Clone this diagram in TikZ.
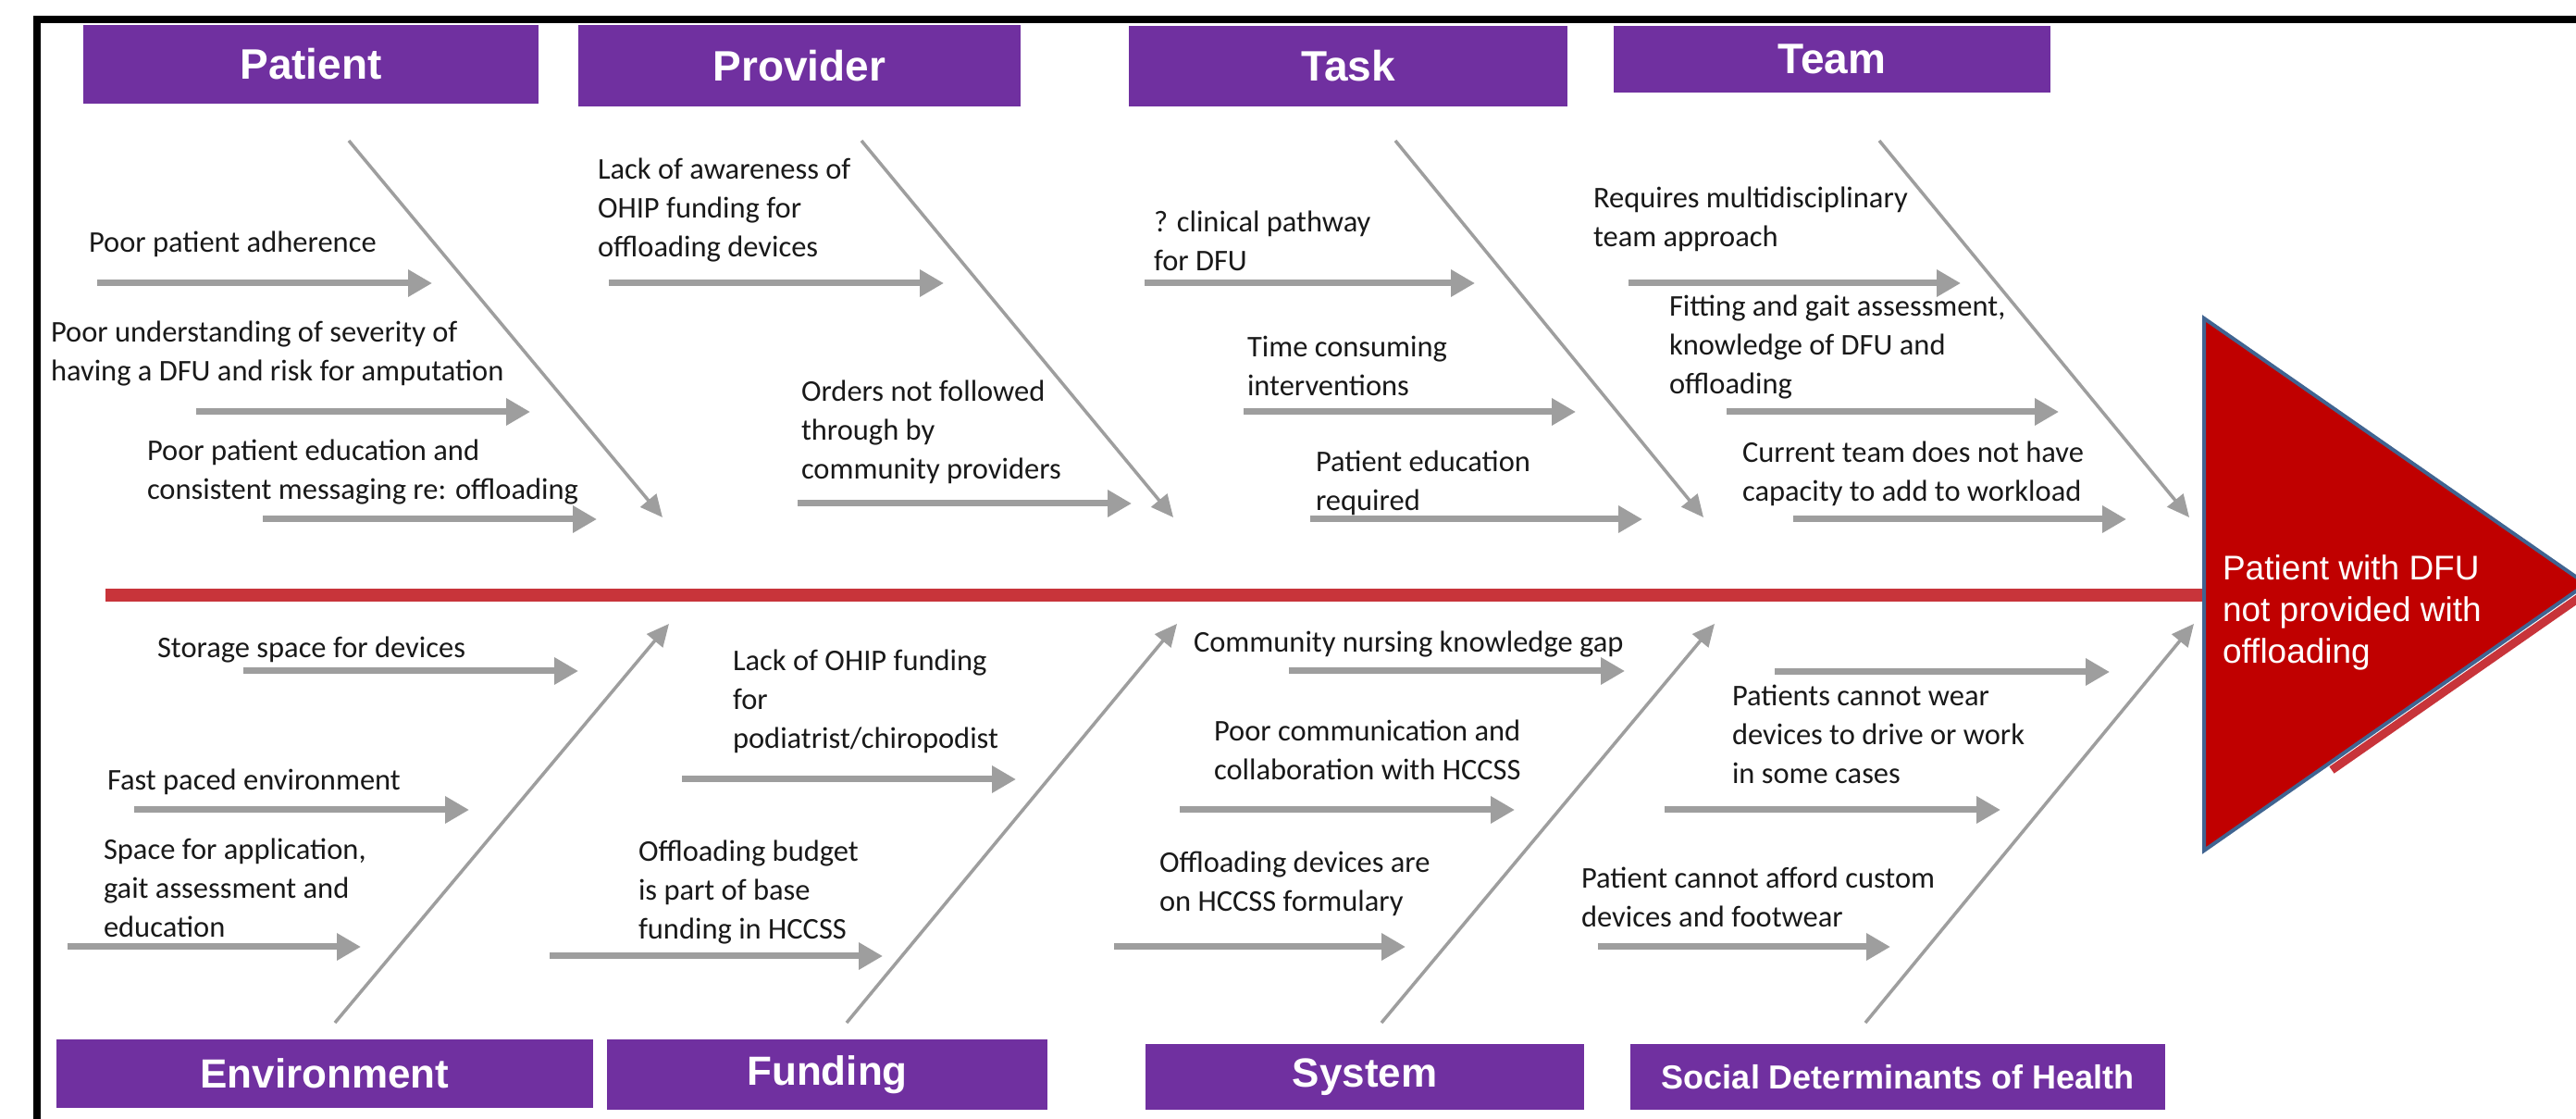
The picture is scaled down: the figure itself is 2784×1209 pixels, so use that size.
\documentclass[tikz,border=0pt]{standalone}
\usepackage{fontspec}
\setmainfont{Carlito}
\newfontfamily\headfont{Liberation Sans}
\usetikzlibrary{arrows.meta}

\begin{document}
\begin{tikzpicture}[x=1pt,y=1pt,
  header/.style={fill=headColor,text=white,inner sep=0pt,outer sep=0pt,font=\headfont\bfseries\fontsize{46}{50}\selectfont},
  cause/.style={text=textColor,anchor=west,align=left,inner sep=0pt,outer sep=0pt,font=\fontsize{32.5}{42}\selectfont},
  bone/.style={draw=boneColor,line width=3.5pt,-{Triangle[length=24pt,width=22pt]}},
  causearrow/.style={draw=boneColor,line width=7pt,-{Triangle[length=26pt,width=28pt]}}]
\definecolor{fillColor}{RGB}{255,255,255}
\definecolor{headColor}{RGB}{112,48,160}
\definecolor{textColor}{RGB}{25,25,25}
\definecolor{boneColor}{RGB}{158,158,158}
\definecolor{spineColor}{RGB}{200,52,58}
\definecolor{effectColor}{RGB}{192,0,0}
\definecolor{effectLine}{RGB}{64,100,145}
\path[use as bounding box,fill=fillColor] (0,0) rectangle (2784,1209);
\begin{scope}
\path[clip] (0,0) rectangle (2784,1209);

\path[draw=black,line width=8pt,line join=miter] (2784,1188) -- (40,1188) -- (40,0);

\node[header,minimum width=492pt,minimum height=85pt] (patient) at (336,1139.5) {Patient};

\node[header,minimum width=478pt,minimum height=88pt] (provider) at (864,1138) {Provider};

\node[header,minimum width=474pt,minimum height=87pt] (task) at (1457,1137.5) {Task};

\node[header,minimum width=472pt,minimum height=72pt] (team) at (1980,1145) {Team};

\node[header,font=\headfont\bfseries\fontsize{44}{48}\selectfont,minimum width=580pt,minimum height=74pt] (environment) at (351,49) {Environment};

\node[header,font=\headfont\bfseries\fontsize{44}{48}\selectfont,minimum width=476pt,minimum height=76pt] (funding) at (894,48) {Funding};

\node[header,font=\headfont\bfseries\fontsize{44}{48}\selectfont,minimum width=474pt,minimum height=71pt] (system) at (1475,45.5) {System};

\node[header,font=\headfont\bfseries\fontsize{36}{40}\selectfont,minimum width=578pt,minimum height=71pt] (social) at (2051,45.5) {Social Determinants of Health};
\end{scope}
\begin{scope}
\path[clip] (0,0) rectangle (2784,1209);

\coordinate (spineStart) at (114,566);

\coordinate (effectTop) at (2382,865);

\coordinate (effectTip) at (2795,578);

\coordinate (effectBottom) at (2382,290);

\coordinate (shadowStart) at (2520,377);

\coordinate (shadowEnd) at (2800,572);

\path[draw=spineColor,line width=14pt] (spineStart) -- (effectTop |- spineStart);

\path[draw=spineColor,line width=9pt] (shadowStart) -- (shadowEnd);

\path[fill=effectColor,draw=effectLine,line width=4pt,line join=miter] (effectTop) -- (effectTip) -- (effectBottom) -- cycle;

\node[anchor=west,align=left,text=white,inner sep=0pt,outer sep=0pt,font=\headfont\fontsize{37}{45}\selectfont] (effect) at (2402,547.5) {Patient with DFU\\not provided with\\offloading};

\coordinate (patientS) at (377,1057);

\coordinate (patientE) at (716,650);

\coordinate (providerS) at (931,1057);

\coordinate (providerE) at (1268,650);

\coordinate (taskS) at (1508,1057);

\coordinate (taskE) at (1841,650);

\coordinate (teamS) at (2031,1057);

\coordinate (teamE) at (2366,650);

\coordinate (environmentS) at (362,104);

\coordinate (environmentE) at (723,535);

\coordinate (fundingS) at (915,104);

\coordinate (fundingE) at (1272,535);

\coordinate (systemS) at (1493,104);

\coordinate (systemE) at (1853,535);

\coordinate (socialS) at (2016,104);

\coordinate (socialE) at (2371,535);

\path[bone] (patientS) -- (patientE);

\path[bone] (providerS) -- (providerE);

\path[bone] (taskS) -- (taskE);

\path[bone] (teamS) -- (teamE);

\path[bone] (environmentS) -- (environmentE);

\path[bone] (fundingS) -- (fundingE);

\path[bone] (systemS) -- (systemE);

\path[bone] (socialS) -- (socialE);
\end{scope}
\begin{scope}
\path[clip] (0,0) rectangle (2784,1209);

\node[cause] (adherence) at (96,945) {Poor patient adherence};

\node[cause] (severity) at (55,826.5) {Poor understanding of severity of\\having a DFU and risk for amputation};

\node[cause] (education) at (159,698.5) {Poor patient education and\\consistent messaging re: offloading};

\node[cause] (awareness) at (646,982) {Lack of awareness of\\OHIP funding for\\offloading devices};

\node[cause] (orders) at (866,742.5) {Orders not followed\\through by\\community providers};

\node[cause] (pathway) at (1247,948.5) {? clinical pathway\\for DFU};

\node[cause] (timeuse) at (1348,814) {Time consuming\\interventions};

\node[cause] (required) at (1422,687.5) {Patient education\\required};

\node[cause] (multidisc) at (1722,972) {Requires multidisciplinary\\team approach};

\node[cause] (fitting) at (1804,833.5) {Fitting and gait assessment,\\knowledge of DFU and\\offloading};

\node[cause] (capacity) at (1883,697.5) {Current team does not have\\capacity to add to workload};

\node[cause] (storage) at (170,507) {Storage space for devices};

\node[cause] (pace) at (116,364) {Fast paced environment};

\node[cause] (space) at (112,250) {Space for application,\\gait assessment and\\education};

\node[cause] (ohip) at (792,451) {Lack of OHIP funding\\for\\podiatrist/chiropodist};

\node[cause] (budget) at (690,245) {Offloading budget\\is part of base\\funding in HCCSS};

\node[cause] (nursing) at (1290,513) {Community nursing knowledge gap};

\node[cause] (communication) at (1312,398.5) {Poor communication and\\collaboration with HCCSS};

\node[cause] (formulary) at (1253,254.5) {Offloading devices are\\on HCCSS formulary};

\node[cause] (wear) at (1872,415.5) {Patients cannot wear\\devices to drive or work\\in some cases};

\node[cause] (afford) at (1709,240) {Patient cannot afford custom\\devices and footwear};
\end{scope}
\begin{scope}
\path[clip] (0,0) rectangle (2784,1209);

\coordinate (adherenceS) at (105,903);

\coordinate (adherenceE) at (467,903);

\coordinate (severityS) at (212,764);

\coordinate (severityE) at (573,764);

\coordinate (educationS) at (284,648);

\coordinate (educationE) at (645,648);

\coordinate (awarenessS) at (658,903);

\coordinate (awarenessE) at (1020,903);

\coordinate (ordersS) at (862,665);

\coordinate (ordersE) at (1223,665);

\coordinate (pathwayS) at (1237,903);

\coordinate (pathwayE) at (1594,903);

\coordinate (timeuseS) at (1344,764);

\coordinate (timeuseE) at (1703,764);

\coordinate (requiredS) at (1416,648);

\coordinate (requiredE) at (1775,648);

\coordinate (multidiscS) at (1760,903);

\coordinate (multidiscE) at (2119,903);

\coordinate (fittingS) at (1866,764);

\coordinate (fittingE) at (2225,764);

\coordinate (capacityS) at (1938,648);

\coordinate (capacityE) at (2298,648);

\coordinate (storageS) at (263,484);

\coordinate (storageE) at (625,484);

\coordinate (paceS) at (145,334);

\coordinate (paceE) at (507,334);

\coordinate (spaceS) at (73,186);

\coordinate (spaceE) at (390,186);

\coordinate (ohipS) at (737,367);

\coordinate (ohipE) at (1098,367);

\coordinate (budgetS) at (594,176);

\coordinate (budgetE) at (954,176);

\coordinate (nursingS) at (1393,484);

\coordinate (nursingE) at (1756,484);

\coordinate (communicationS) at (1275,334);

\coordinate (communicationE) at (1637,334);

\coordinate (formularyS) at (1204,186);

\coordinate (formularyE) at (1519,186);

\coordinate (upperS) at (1918,483);

\coordinate (upperE) at (2280,483);

\coordinate (wearS) at (1799,334);

\coordinate (wearE) at (2162,334);

\coordinate (affordS) at (1727,186);

\coordinate (affordE) at (2043,186);

\path[causearrow] (adherenceS) -- (adherenceE);

\path[causearrow] (severityS) -- (severityE);

\path[causearrow] (educationS) -- (educationE);

\path[causearrow] (awarenessS) -- (awarenessE);

\path[causearrow] (ordersS) -- (ordersE);

\path[causearrow] (pathwayS) -- (pathwayE);

\path[causearrow] (timeuseS) -- (timeuseE);

\path[causearrow] (requiredS) -- (requiredE);

\path[causearrow] (multidiscS) -- (multidiscE);

\path[causearrow] (fittingS) -- (fittingE);

\path[causearrow] (capacityS) -- (capacityE);

\path[causearrow] (storageS) -- (storageE);

\path[causearrow] (paceS) -- (paceE);

\path[causearrow] (spaceS) -- (spaceE);

\path[causearrow] (ohipS) -- (ohipE);

\path[causearrow] (budgetS) -- (budgetE);

\path[causearrow] (nursingS) -- (nursingE);

\path[causearrow] (communicationS) -- (communicationE);

\path[causearrow] (formularyS) -- (formularyE);

\path[causearrow] (upperS) -- (upperE);

\path[causearrow] (wearS) -- (wearE);

\path[causearrow] (affordS) -- (affordE);
\end{scope}
\end{tikzpicture}
\end{document}
